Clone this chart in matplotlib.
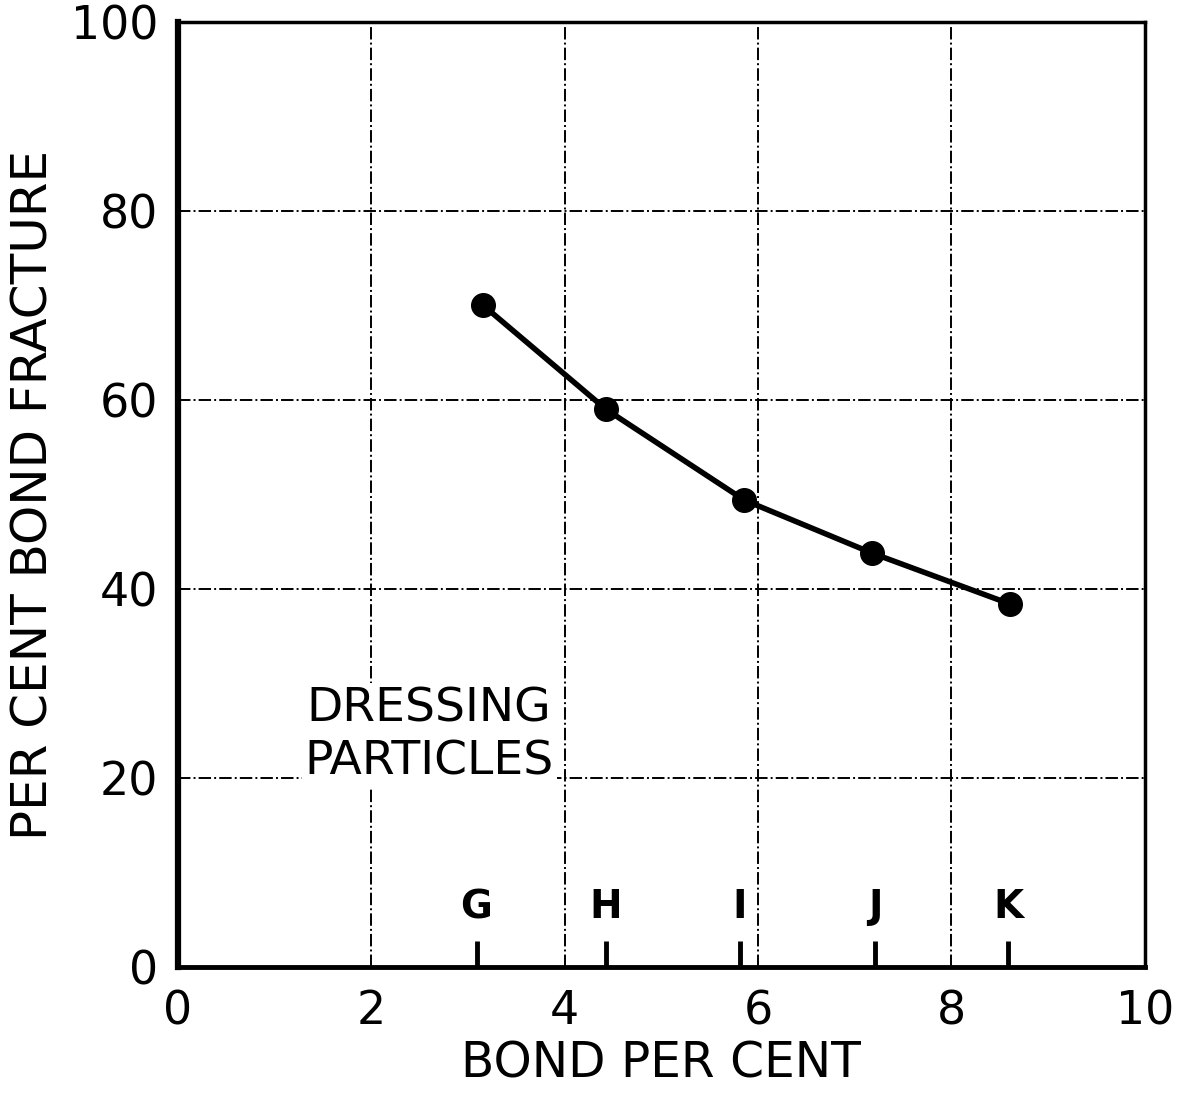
import matplotlib.pyplot as plt

# data
bond_pct = [3.16, 4.43, 5.86, 7.18, 8.61]
fracture_pct = [70.0, 59.0, 49.4, 43.8, 38.4]

grade_labels = ['G', 'H', 'I', 'J', 'K']
grade_pos = [3.09, 4.43, 5.81, 7.21, 8.59]

xticks = [0, 2, 4, 6, 8, 10]
yticks = [0, 20, 40, 60, 80, 100]

fig = plt.figure(figsize=(11.85, 10.97), dpi=100)
ax = fig.add_axes([0.150, 0.1185, 0.816, 0.8615])

ax.set_xlim(0, 10)
ax.set_ylim(0, 100)
ax.set_xticks(xticks)
ax.set_yticks(yticks)
ax.set_xticklabels([str(t) for t in xticks], fontsize=33)
ax.set_yticklabels([str(t) for t in yticks], fontsize=33)
ax.tick_params(axis='x', length=0, pad=16)
ax.tick_params(axis='y', length=0, pad=14)

ax.grid(True, color='black', linestyle='-.', linewidth=1.4, zorder=1)

for side, lw in [('left', 4.5), ('bottom', 3.5), ('right', 2.5), ('top', 2.5)]:
    ax.spines[side].set_linewidth(lw)
    ax.spines[side].set_color('black')

ax.plot(bond_pct, fracture_pct, color='black', linewidth=4, marker='o',
        markersize=17, zorder=4)

# grade markers along the bottom
for lab, x in zip(grade_labels, grade_pos):
    ax.plot([x, x], [0, 2.8], color='black', linewidth=3.5, zorder=3,
            solid_capstyle='butt')
    ax.text(x, 4.3, lab, ha='center', va='bottom', fontsize=28,
            fontweight='bold', zorder=3)

ax.text(2.6, 24.5, 'DRESSING\nPARTICLES', ha='center', va='center',
        fontsize=34, linespacing=1.25, zorder=3,
        bbox=dict(facecolor='white', edgecolor='none', pad=2))

ax.set_xlabel('BOND PER CENT', fontsize=35, labelpad=4)
ax.set_ylabel('PER CENT BOND FRACTURE', fontsize=36, labelpad=10)

fig.savefig('out.png', dpi=100)
